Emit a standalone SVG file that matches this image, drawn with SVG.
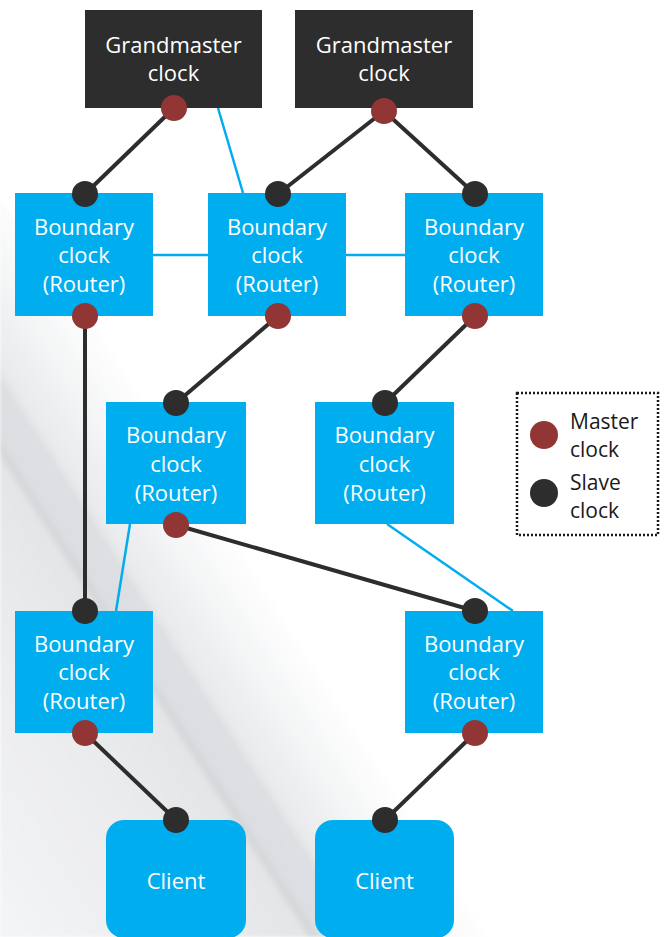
<svg xmlns="http://www.w3.org/2000/svg" width="666" height="937" viewBox="0 0 666 937">
<defs>
<linearGradient id="bgShade" gradientUnits="userSpaceOnUse" x1="-55" y1="821" x2="281" y2="605">
<stop offset="0" stop-color="#f3f4f5"/>
<stop offset="0.4" stop-color="#eaebed"/>
<stop offset="0.6" stop-color="#e4e5e7"/>
<stop offset="0.62" stop-color="#d5d7da"/>
<stop offset="0.64" stop-color="#dcdee1"/>
<stop offset="0.71" stop-color="#dddfe2"/>
<stop offset="0.735" stop-color="#e9eaec"/>
<stop offset="0.86" stop-color="#f4f5f6"/>
<stop offset="1" stop-color="#ffffff"/>
</linearGradient>
<filter id="soft" x="-0.1" y="-0.1" width="1.2" height="1.2"><feGaussianBlur stdDeviation="1.5"/></filter>
<style>
.box{fill:#00aeef}
.gm{fill:#2d2d2d}
.t{font-family:"Open Sans","Noto Sans","Liberation Sans",sans-serif;font-size:22px;fill:#ffffff;text-anchor:middle}
.lg{font-family:"Open Sans","Noto Sans","Liberation Sans",sans-serif;font-size:21px;fill:#1a1a1a}
.m{fill:#913634}
.s{fill:#2d2d2d}
.k{stroke:#2d2d2d;stroke-width:4;fill:none}
.b{stroke:#00aeef;stroke-width:2.5;fill:none}
</style>
</defs>
<rect x="0" y="0" width="666" height="937" fill="#ffffff"/>
<g id="background">
<polygon points="0,200 0,937 560,937" fill="url(#bgShade)" filter="url(#soft)"/>
</g>
<g id="connectors">
<line class="b" x1="218" y1="108" x2="243" y2="193"/>
<line class="b" x1="153" y1="255" x2="208" y2="255"/>
<line class="b" x1="346" y1="255" x2="405" y2="255"/>
<line class="b" x1="130" y1="524" x2="116" y2="611"/>
<line class="b" x1="387" y1="524" x2="513" y2="611"/>
<line class="k" x1="174" y1="108" x2="85" y2="194"/>
<line class="k" x1="384" y1="111" x2="278" y2="194"/>
<line class="k" x1="384" y1="111" x2="475" y2="194"/>
<line class="k" x1="85" y1="316" x2="85" y2="611"/>
<line class="k" x1="278" y1="316" x2="176" y2="403"/>
<line class="k" x1="475" y1="316" x2="385" y2="403"/>
<line class="k" x1="176" y1="525" x2="475" y2="611"/>
<line class="k" x1="85" y1="733" x2="176" y2="820"/>
<line class="k" x1="475" y1="733" x2="385" y2="820"/>
</g>
<g id="gm1">
<rect class="gm" x="85" y="10" width="177" height="98"/>
<text class="t" x="173.5" y="53">Grandmaster</text>
<text class="t" x="173.5" y="81">clock</text>
<circle class="m" cx="174" cy="108" r="13"/>
</g>
<g id="gm2">
<rect class="gm" x="295" y="10" width="178" height="98"/>
<text class="t" x="384" y="53">Grandmaster</text>
<text class="t" x="384" y="81">clock</text>
<circle class="m" cx="384" cy="111" r="13"/>
</g>
<g id="bcA">
<rect class="box" x="15" y="193" width="138" height="123"/>
<text class="t" x="84" y="235">Boundary</text>
<text class="t" x="84" y="263">clock</text>
<text class="t" x="84" y="292">(Router)</text>
<circle class="s" cx="85" cy="194" r="13"/>
<circle class="m" cx="85" cy="316" r="13"/>
</g>
<g id="bcB">
<rect class="box" x="208" y="193" width="138" height="123"/>
<text class="t" x="277" y="235">Boundary</text>
<text class="t" x="277" y="263">clock</text>
<text class="t" x="277" y="292">(Router)</text>
<circle class="s" cx="278" cy="194" r="13"/>
<circle class="m" cx="278" cy="316" r="13"/>
</g>
<g id="bcC">
<rect class="box" x="405" y="193" width="138" height="123"/>
<text class="t" x="474" y="235">Boundary</text>
<text class="t" x="474" y="263">clock</text>
<text class="t" x="474" y="292">(Router)</text>
<circle class="s" cx="475" cy="194" r="13"/>
<circle class="m" cx="475" cy="316" r="13"/>
</g>
<g id="bcD">
<rect class="box" x="106" y="402" width="140" height="122"/>
<text class="t" x="176" y="443">Boundary</text>
<text class="t" x="176" y="472">clock</text>
<text class="t" x="176" y="501">(Router)</text>
<circle class="s" cx="176" cy="403" r="13"/>
<circle class="m" cx="176" cy="525" r="13"/>
</g>
<g id="bcE">
<rect class="box" x="315" y="402" width="139" height="122"/>
<text class="t" x="384.5" y="443">Boundary</text>
<text class="t" x="384.5" y="472">clock</text>
<text class="t" x="384.5" y="501">(Router)</text>
<circle class="s" cx="385" cy="403" r="13"/>
</g>
<g id="bcF">
<rect class="box" x="15" y="611" width="138" height="122"/>
<text class="t" x="84" y="652">Boundary</text>
<text class="t" x="84" y="680">clock</text>
<text class="t" x="84" y="709">(Router)</text>
<circle class="s" cx="85" cy="611" r="13"/>
<circle class="m" cx="85" cy="733" r="13"/>
</g>
<g id="bcG">
<rect class="box" x="405" y="611" width="138" height="122"/>
<text class="t" x="474" y="652">Boundary</text>
<text class="t" x="474" y="680">clock</text>
<text class="t" x="474" y="709">(Router)</text>
<circle class="s" cx="475" cy="611" r="13"/>
<circle class="m" cx="475" cy="733" r="13"/>
</g>
<g id="client1">
<rect class="box" x="106" y="820" width="140" height="118" rx="18"/>
<text class="t" x="176" y="889">Client</text>
<circle class="s" cx="176" cy="820" r="13"/>
</g>
<g id="client2">
<rect class="box" x="315" y="820" width="139" height="118" rx="18"/>
<text class="t" x="384.5" y="889">Client</text>
<circle class="s" cx="385" cy="820" r="13"/>
</g>
<g id="legend">
<rect x="517" y="393" width="141" height="142" fill="#ffffff" stroke="#1a1a1a" stroke-width="2.5" stroke-dasharray="2 2"/>
<circle class="m" cx="544" cy="435" r="14"/>
<circle class="s" cx="544" cy="493" r="14"/>
<text class="lg" x="570" y="429">Master</text>
<text class="lg" x="570" y="457">clock</text>
<text class="lg" x="570" y="490">Slave</text>
<text class="lg" x="570" y="518">clock</text>
</g>
</svg>
